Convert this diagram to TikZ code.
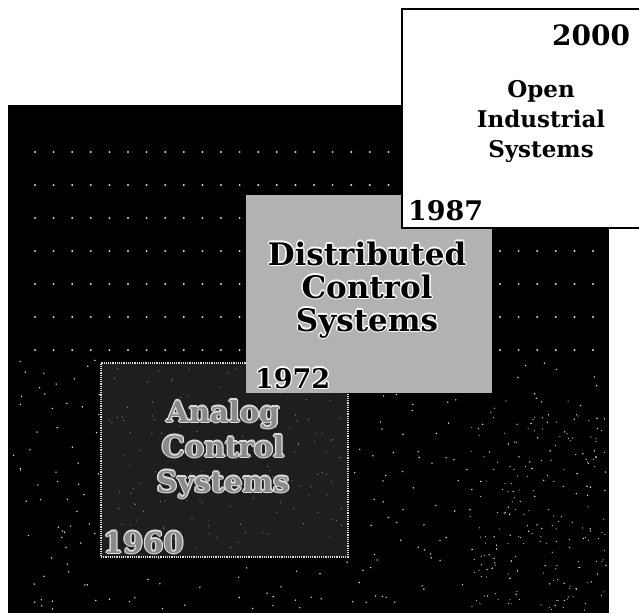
\documentclass[tikz,border=0pt]{standalone}
\usepackage{fontspec}
\setmainfont{DejaVu Serif}
\usepackage{xcolor}
\definecolor{Ink}{HTML}{000000}
\definecolor{Halftone}{HTML}{B2B2B2}
\definecolor{Charcoal}{HTML}{1E1E1E}
\definecolor{Speck}{HTML}{DCDCDC}
\definecolor{Slate}{HTML}{8A8A8A}
\colorlet{ink}{Ink}
\colorlet{halftone}{Halftone}
\colorlet{charcoal}{Charcoal}
\colorlet{speck}{Speck}
\colorlet{slate}{Slate}
\usepackage{tikz}
\usetikzlibrary{positioning}

% outlined lettering: ring colour, fill colour, text
\newcommand{\ringtext}[3]{%
  \foreach \ang in {0,45,...,315}{%
    \pgfmathsetmacro{\ringdx}{1.3*cos(\ang)}%
    \pgfmathsetmacro{\ringdy}{1.3*sin(\ang)}%
    \rlap{\hspace*{\ringdx pt}\raisebox{\ringdy pt}{\color{#1}#3}}}%
  {\color{#2}#3}}

\begin{document}
\begin{tikzpicture}[x=1pt,y=-1pt,
  every node/.style={inner sep=0pt,outer sep=0pt},
  era/.style={rectangle,anchor=north west},
  title/.style={align=center,anchor=base,font=\bfseries},
  year/.style={anchor=base west,font=\bfseries\fontsize{27}{27}\selectfont}]
\useasboundingbox (0,0) rectangle (639,613);
\fill[ink] (8,105) rectangle (609,613);
% halftone dots of the backdrop
\foreach \row in {152,185,...,350}
  \foreach \col in {35,53.6,...,600}
    \fill[speck] (\col,\row) circle (1.1);
\pgfmathsetseed{42}
\foreach \k in {1,...,320}
  \fill[speck] ({12+594*rnd},{360+250*rnd}) circle (0.8);
\foreach \k in {1,...,160}
  \fill[speck] ({470+136*rnd},{400+210*rnd}) circle (0.6);

\node[era,fill=charcoal,draw=speck,densely dotted,line width=1.2pt,
  minimum width=247pt,minimum height=194pt] (analog) at (101,363) {};
\foreach \k in {1,...,140}
  \fill[slate] ({106+238*rnd},{368+184*rnd}) circle (0.6);
\node[era,fill=halftone,minimum width=246pt,minimum height=198pt] (dcs) at (246,195) {};
\node[era,fill=white,draw=ink,line width=2pt,
  minimum width=245pt,minimum height=219pt] (ois) at (402,9) {};

\node[anchor=base east,font=\bfseries\fontsize{28}{28}\selectfont] (y2000) at (630,45) {2000};
\node[title,font=\bfseries\fontsize{23}{30}\selectfont] (oistext) at (541,157) {Open\\Industrial\\Systems};
\node[year] (y1987) at ([shift={(6,-8)}]ois.south west) {1987};

\node[title,font=\bfseries\fontsize{31}{33}\selectfont] (dcstext) at (367,331)
  {\ringtext{white}{ink}{Distributed}\\\ringtext{white}{ink}{Control}\\\ringtext{white}{ink}{Systems}};
\node[year] (y1972) at ([shift={(9,-5)}]dcs.south west) {\ringtext{white}{ink}{1972}};

\node[title,font=\bfseries\fontsize{29}{35}\selectfont] (analogtext) at (223,492)
  {\ringtext{speck}{slate}{Analog}\\\ringtext{speck}{slate}{Control}\\\ringtext{speck}{slate}{Systems}};
\node[year,font=\bfseries\fontsize{29}{29}\selectfont] (y1960) at ([shift={(2,-4)}]analog.south west) {\ringtext{speck}{slate}{1960}};
\end{tikzpicture}
\end{document}
